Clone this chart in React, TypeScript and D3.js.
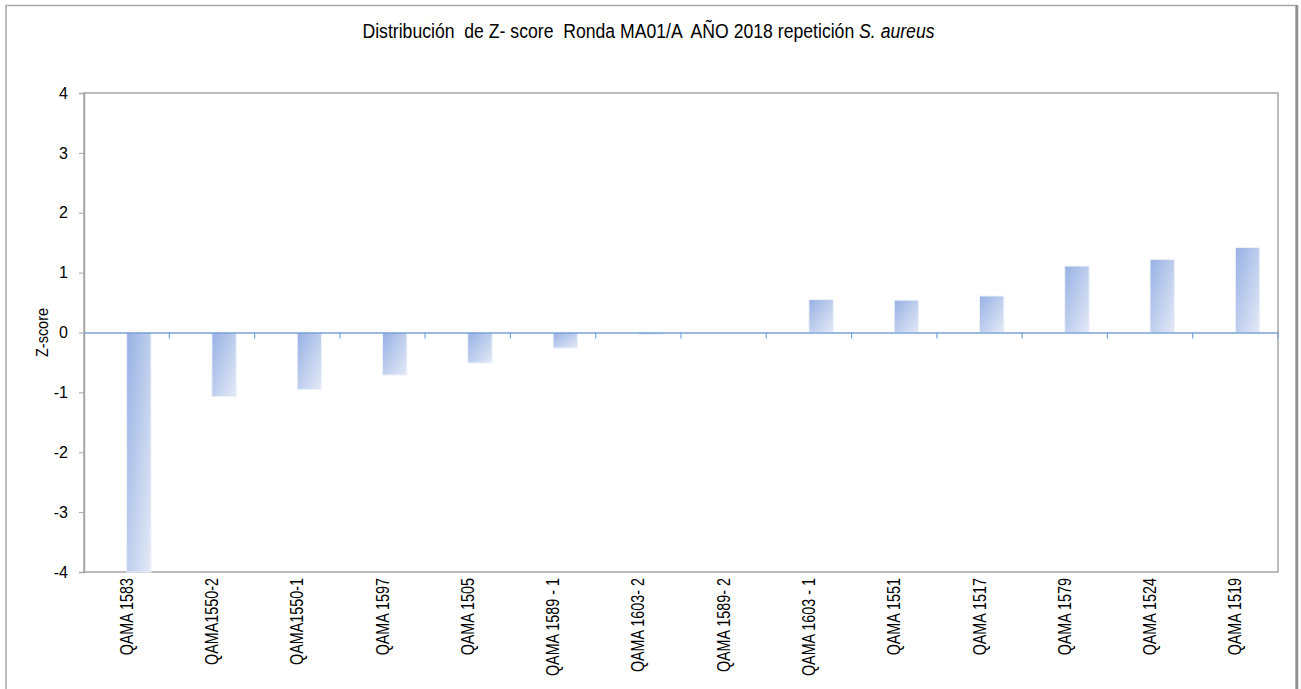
import { useEffect, useRef } from "react";
import * as d3 from "d3";

const WIDTH = 1301;
const HEIGHT = 689;
const MARGIN = { top: 93, right: 23, bottom: 117, left: 84 };

const categories = [
  "QAMA 1583",
  "QAMA1550-2",
  "QAMA1550-1",
  "QAMA 1597",
  "QAMA 1505",
  "QAMA 1589 - 1",
  "QAMA 1603- 2",
  "QAMA 1589- 2",
  "QAMA 1603 - 1",
  "QAMA 1551",
  "QAMA 1517",
  "QAMA 1579",
  "QAMA 1524",
  "QAMA 1519",
];
const zScores = [
  -4.0, -1.07, -0.95, -0.71, -0.51, -0.26, -0.03, 0, 0.55, 0.54, 0.61, 1.11,
  1.22, 1.42,
];
// Excel layout: an empty slot before the real series in each category
const seriesSlots = ["empty", "zscore"];
const yTicks = [-4, -3, -2, -1, 0, 1, 2, 3, 4];

const FONT = "'Liberation Sans', Arial, sans-serif";
const NARROW = 0.82; // the source uses a condensed face

export default function App() {
  const axesRef = useRef<SVGGElement>(null);
  const boundsWidth = WIDTH - MARGIN.left - MARGIN.right;
  const boundsHeight = HEIGHT - MARGIN.top - MARGIN.bottom;

  const xScale = d3
    .scaleBand<string>()
    .domain(categories)
    .range([0, boundsWidth])
    .padding(0);
  const xSub = d3
    .scaleBand<string>()
    .domain(seriesSlots)
    .range([0, xScale.bandwidth()])
    .paddingInner(0)
    .paddingOuter(0.75);
  const yScale = d3.scaleLinear().domain([-4, 4]).range([boundsHeight, 0]);

  useEffect(() => {
    const g = d3.select(axesRef.current);
    g.selectAll("*").remove();

    // left axis
    const yAxis = g
      .append("g")
      .call(
        d3
          .axisLeft(yScale)
          .tickValues(yTicks)
          .tickSize(5)
          .tickPadding(11)
          .tickFormat((d) => String(d))
      );
    yAxis.select(".domain").attr("stroke", "#a6a6a6").attr("stroke-width", 1.5);
    yAxis.selectAll(".tick line").attr("stroke", "#a6a6a6");
    yAxis
      .selectAll(".tick text")
      .attr("font-family", FONT)
      .attr("font-size", 16)
      .attr("fill", "#000");

    // zero line with category ticks
    const zeroAxis = g
      .append("g")
      .attr("transform", `translate(0,${yScale(0)})`)
      .call(d3.axisBottom(xScale).tickSize(0).tickFormat(() => ""));
    zeroAxis.select(".domain").attr("stroke", "#7aa2d8").attr("stroke-width", 1.5);
    zeroAxis.selectAll(".tick").remove();
    const boundaries = d3.range(1, categories.length + 1).map((i) => i * xScale.step());
    zeroAxis
      .selectAll("line.sep")
      .data(boundaries)
      .join("line")
      .attr("class", "sep")
      .attr("x1", (d) => d)
      .attr("x2", (d) => d)
      .attr("y1", 0)
      .attr("y2", 6)
      .attr("stroke", "#7aa2d8")
      .attr("stroke-width", 1.2);

    // category labels
    g.append("g")
      .attr("transform", `translate(0,${boundsHeight})`)
      .selectAll("text")
      .data(categories)
      .join("text")
      .attr(
        "transform",
        (d) =>
          `translate(${(xScale(d) ?? 0) + xScale.bandwidth() / 2 + 6},6) rotate(-90) scale(${NARROW},1)`
      )
      .attr("text-anchor", "end")
      .attr("font-family", FONT)
      .attr("font-size", 17.5)
      .style("white-space", "pre")
      .text((d) => d);
  }, [xScale, yScale, boundsHeight]);

  const bars = categories.map((c, i) => {
    const v = zScores[i];
    const x = (xScale(c) ?? 0) + (xSub("zscore") ?? 0);
    const y0 = yScale(Math.max(0, v));
    const h = Math.abs(yScale(v) - yScale(0));
    return (
      <rect
        key={c}
        x={x}
        y={y0}
        width={xSub.bandwidth()}
        height={h}
        fill="url(#barGrad)"
        stroke="#eef2fa"
        strokeWidth={1}
      />
    );
  });

  return (
    <svg
      width={WIDTH}
      height={HEIGHT}
      style={{ position: "absolute", left: 0, top: 0, background: "#fff" }}
    >
      <defs>
        <linearGradient id="barGrad" x1="0" y1="0" x2="1" y2="1">
          <stop offset="0%" stopColor="#97b1e3" />
          <stop offset="100%" stopColor="#e4eaf7" />
        </linearGradient>
      </defs>
      {/* chart frame */}
      <rect x={6} y={5.5} width={1290} height={700} fill="none" stroke="#a8a8a8" strokeWidth={1.5} />
      <line x1={1297} x2={1297} y1={5} y2={689} stroke="#8f8f8f" strokeWidth={2.5} />
      <text
        transform={`translate(648.5,38) scale(0.84,1)`}
        textAnchor="middle"
        fontFamily={FONT}
        fontSize={21}
        fill="#000"
        style={{ whiteSpace: "pre" }}
      >
        {"Distribución  de Z- score  Ronda MA01/A  AÑO 2018 repetición "}
        <tspan fontStyle="italic">S. aureus</tspan>
      </text>
      <g transform={`translate(${MARGIN.left},${MARGIN.top})`}>
        <rect
          x={0}
          y={0}
          width={boundsWidth}
          height={boundsHeight}
          fill="none"
          stroke="#a6a6a6"
          strokeWidth={1.5}
        />
        {bars}
        <g ref={axesRef} />
      </g>
      <text
        transform={`translate(48,${MARGIN.top + yScale(0)}) rotate(-90) scale(0.85,1)`}
        textAnchor="middle"
        fontFamily={FONT}
        fontSize={17}
        fill="#000"
      >
        Z-score
      </text>
    </svg>
  );
}
